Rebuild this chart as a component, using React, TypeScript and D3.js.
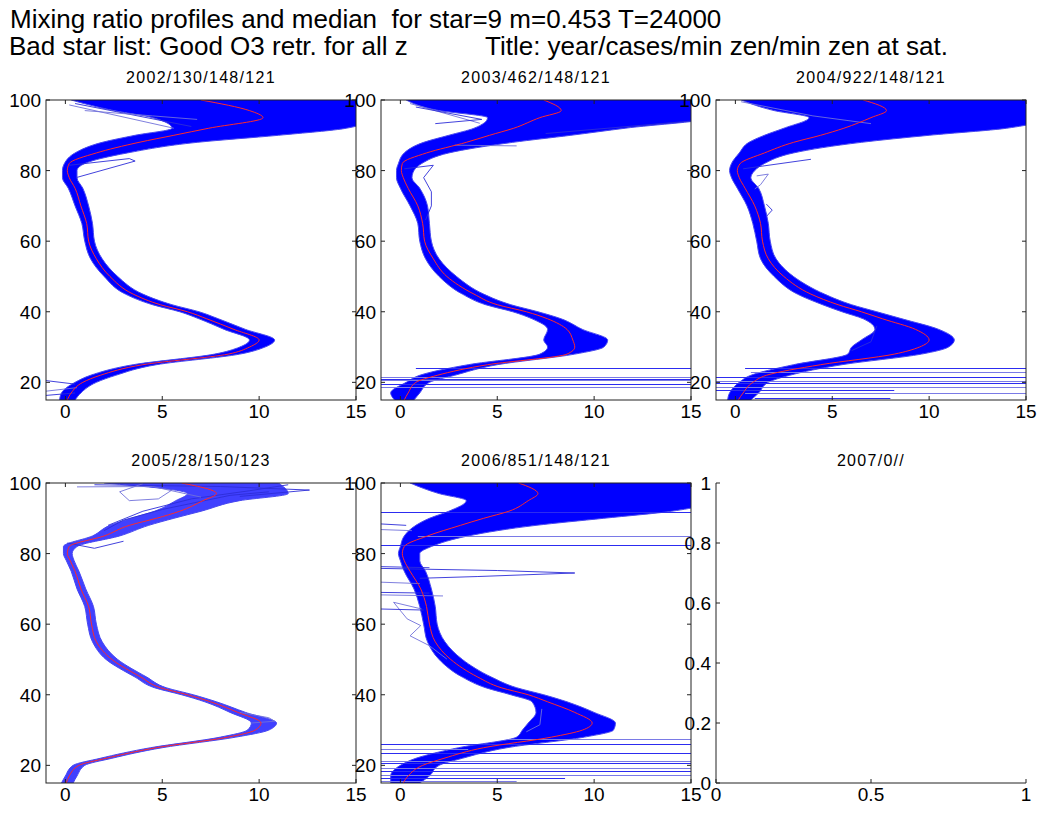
import React from "react";
import * as d3 from "d3";

// ---------- data ----------
const Z = [15, 17, 20, 22, 25, 28, 30, 32, 35, 38, 40, 42, 45, 50, 55, 60, 65, 70, 75, 78, 80, 82, 85, 88, 90, 92, 95, 97, 100];

const panelTitles = ["2002/130/148/121", "2003/462/148/121", "2004/922/148/121", "2005/28/150/123", "2006/851/148/121", "2007/0//"];

const median2002 = [0.1, 0.3, 0.9, 1.8, 4.0, 8.4, 9.5, 10.0, 8.7, 7.3, 6.3, 4.9, 3.5, 2.3, 1.6, 1.2, 1.1, 0.8, 0.5, 0.2, 0.1, 0.2, 1.6, 3.8, 5.6, 7.4, 10.2, 9.5, 7.0];
const lower2002 = [-0.3, -0.2, 0.5, 1.3, 3.5, 7.7, 9.0, 9.5, 8.2, 6.9, 5.9, 4.5, 3.1, 2.0, 1.3, 1.0, 0.85, 0.5, 0.15, -0.15, -0.15, -0.05, 0.5, 1.9, 3.6, 5.5, 4.5, 2.5, 0.3];
const upper2002 = [0.5, 0.8, 1.6, 2.6, 4.7, 9.0, 10.3, 10.8, 9.3, 7.9, 6.9, 5.5, 4.0, 2.7, 1.9, 1.5, 1.4, 1.2, 0.9, 0.6, 0.6, 1.0, 3.2, 6.8, 11.0, 14.5, 16, 16, 16];

const median2003 = [0.2, 0.4, 0.8, 1.9, 4.5, 8.6, 9.0, 8.9, 8.6, 7.6, 6.5, 5.0, 3.8, 2.4, 1.7, 1.25, 1.15, 0.9, 0.4, 0.15, 0.05, 0.1, 1.35, 3.4, 4.6, 5.85, 7.2, 8.3, 7.4];
const lower2003 = [-0.3, -0.5, 0.3, 1.0, 3.5, 7.2, 7.6, 7.4, 7.6, 6.8, 5.8, 4.4, 3.2, 2.0, 1.3, 1.0, 0.9, 0.5, 0.0, -0.2, -0.2, -0.1, 0.2, 1.2, 2.5, 3.8, 4.5, 2.0, 0.3];
const upper2003 = [0.7, 1.0, 1.5, 2.8, 5.0, 9.0, 10.5, 10.7, 9.4, 8.3, 7.1, 5.7, 4.3, 2.9, 2.0, 1.6, 1.5, 1.4, 1.0, 0.6, 0.7, 1.1, 2.5, 5.8, 8.8, 11.6, 16, 16, 16];

const median2004 = [0.15, 0.4, 0.9, 1.6, 4.4, 8.2, 9.5, 10.0, 9.3, 7.6, 6.5, 5.3, 3.9, 2.5, 1.7, 1.4, 1.3, 1.0, 0.5, 0.2, 0.1, 0.25, 1.5, 3.0, 4.4, 5.6, 7.0, 7.8, 6.6];
const lower2004 = [-0.4, -0.3, 0.2, 0.8, 3.0, 5.8, 6.0, 6.5, 7.2, 6.6, 5.5, 4.5, 3.2, 2.0, 1.3, 1.1, 0.9, 0.6, 0.1, -0.2, -0.3, -0.2, 0.2, 0.7, 1.5, 2.5, 3.8, 2.0, 0.3];
const upper2004 = [0.8, 1.2, 1.7, 2.8, 5.5, 9.6, 11.0, 11.3, 10.5, 8.6, 7.3, 6.0, 4.6, 3.0, 2.1, 1.8, 1.7, 1.5, 1.2, 0.8, 1.0, 1.5, 3.0, 6.5, 10.0, 14.0, 16, 16, 16];

const median2005 = [0.05, 0.2, 0.7, 2.1, 4.7, 8.4, 9.8, 10.1, 8.9, 7.5, 6.3, 4.9, 3.9, 2.4, 1.6, 1.35, 1.2, 0.8, 0.5, 0.25, 0.1, 0.2, 2.0, 3.3, 4.7, 5.9, 7.1, 7.8, 6.0];
const lower2005 = [-0.2, 0.0, 0.4, 1.8, 4.4, 8.0, 9.4, 9.6, 8.5, 7.2, 6.0, 4.6, 3.6, 2.1, 1.4, 1.15, 1.0, 0.6, 0.3, 0.05, -0.1, -0.1, 1.4, 2.3, 3.4, 4.6, 5.7, 6.3, 2.0];
const upper2005 = [0.4, 0.6, 1.0, 2.4, 5.0, 8.8, 10.5, 10.9, 9.3, 7.8, 6.6, 5.2, 4.2, 2.7, 1.9, 1.6, 1.45, 1.05, 0.7, 0.45, 0.35, 0.6, 2.8, 4.3, 5.6, 7.0, 9.0, 11.5, 11.0];

const median2006 = [0.15, 0.4, 1.15, 2.25, 4.3, 7.8, 9.4, 9.9, 9.0, 7.6, 6.6, 5.2, 4.0, 2.6, 1.8, 1.5, 1.35, 1.05, 0.5, 0.2, 0.1, 0.2, 1.4, 3.1, 4.3, 5.6, 6.6, 7.1, 6.1];
const lower2006 = [-0.5, -0.5, 0.0, 0.8, 3.0, 6.0, 6.3, 6.6, 7.0, 6.8, 5.7, 4.4, 3.2, 2.0, 1.4, 1.2, 1.0, 0.7, 0.2, 0.0, -0.1, 0.0, 0.2, 0.8, 1.5, 2.5, 3.4, 2.0, 0.5];
const upper2006 = [1.0, 1.5, 2.0, 3.2, 5.5, 9.5, 11.0, 11.1, 10.0, 8.6, 7.4, 6.0, 4.7, 3.2, 2.3, 1.9, 1.8, 1.6, 1.3, 1.0, 1.0, 1.6, 3.5, 7.0, 10.5, 14.0, 16, 16, 16];

// outlier profiles: [x, altitude] pairs
const outliers2002 = [
  [[0.2, 81.5], [3.3, 83.4], [3.6, 82.7], [0.55, 78]],
  [[0.2, 98.6], [5.6, 92.0]],
  [[0.5, 99.0], [6.5, 92.5]],
  [[1.0, 97.0], [4.5, 95.5], [6.8, 94.5]],
  [[-1, 20.5], [0.5, 19.5]],
  [[-1, 17.5], [0.6, 18.5]],
  [[-1, 16.3], [0.5, 17.0]],
];
const outliers2003 = [
  [[0.2, 80.5], [1.7, 81.5], [1.2, 78], [1.6, 74], [1.6, 70], [1.3, 66]],
  [[0.5, 99.0], [4.1, 93.4]],
  [[0.8, 98.0], [4.2, 94.5], [1.8, 93.3]],
  [[2.8, 87.2], [6.0, 87.0]],
  [[7.5, 90.5], [16, 94.5]],
];
const outliers2004 = [
  [[0.4, 80.5], [3.9, 83.2]],
  [[1.1, 78.5], [1.7, 79.0], [1.3, 76], [1.0, 74.8]],
  [[1.6, 70.5], [1.9, 68.8], [1.6, 67]],
  [[0.3, 99.5], [4.0, 95.5], [7.0, 93.3]],
  [[6.0, 29.0], [7.0, 31.5], [7.3, 36.0]],
];
const outliers2005 = [
  [[1.5, 99.5], [8.0, 99.0], [12.6, 98.0], [9.0, 96.2]],
  [[4.0, 99.8], [2.8, 97.5], [3.3, 95.0], [4.8, 95.5], [5.5, 98.0]],
  [[2.2, 88.0], [4.0, 92.0], [6.5, 95.5], [9.5, 97.8], [11.5, 99.5]],
  [[0.6, 98.9], [4.5, 99.0], [7.0, 96.0]],
  [[2.0, 86.5], [3.0, 89.5], [5.0, 92.5], [8.5, 96.5], [10.5, 97.5]],
  [[9.0, 35.0], [10.5, 33.5], [10.8, 32.5], [9.6, 32.0]],
  [[0.1, 83.0], [1.5, 81.5], [3.0, 83.5]],
];
const outliers2006 = [
  [[-1, 75.8], [5, 75.2], [9.0, 74.5], [4, 73.5], [1.0, 73.0]],
  [[1.1, 64.3], [-0.35, 66.2], [0.35, 61.5], [1.05, 59.6], [0.5, 56.7], [1.5, 53.9], [2.4, 50.1]],
  [[-1, 88.4], [0.3, 88.0]],
  [[-1, 86.8], [0.6, 86.5]],
  [[-1, 76.3], [1.5, 76.0]],
  [[-1, 71.9], [1.0, 71.5]],
  [[-1, 69.0], [1.5, 68.8]],
  [[-1, 68.3], [2.2, 68.0]],
  [[-1, 64.3], [1.2, 64.0]],
  [[6.5, 29.5], [7.2, 31.5], [7.3, 36.0]],
];

// near-horizontal streaks: [altitude, x start, x end]
const streaks2002: number[][] = [];
const streaks2003 = [[24.2, 0.8, 16], [21.6, -1, 16], [20.9, -1, 16], [20.6, -1, 16], [19.5, -1, 16], [18.6, -1, 16]];
const streaks2004 = [[24.1, 0.5, 16], [22.8, 0.8, 16], [21.4, -1, 16], [20.5, -1, 16], [19.7, -1, 16], [18.8, -1, 16], [17.9, -1, 8.2], [17.1, 0.5, 16], [15.7, 1.0, 8.0]];
const streaks2005: number[][] = [];
const streaks2006 = [[91.8, -1, 16], [85.0, 0.9, 16], [82.3, -1, 16], [27.4, 5.5, 16], [26.0, -1, 16], [24.5, -1, 3.5], [23.6, -1, 16], [21.2, -1, 16], [20.7, -1, 16], [19.3, -1, 16], [18.4, -1, 16], [17.4, -1, 16], [16.5, -1, 8.5], [15.5, -1, 6]];

const xTicks = [0, 5, 10, 15];
const yTicks = [20, 40, 60, 80, 100];
const emptyXTicks = [0, 0.5, 1];
const emptyYTicks = [0, 0.2, 0.4, 0.6, 0.8, 1];

const panels = [
  { title: panelTitles[0], median: median2002, lower: lower2002, upper: upper2002, outliers: outliers2002, streaks: streaks2002 },
  { title: panelTitles[1], median: median2003, lower: lower2003, upper: upper2003, outliers: outliers2003, streaks: streaks2003 },
  { title: panelTitles[2], median: median2004, lower: lower2004, upper: upper2004, outliers: outliers2004, streaks: streaks2004 },
  { title: panelTitles[3], median: median2005, lower: lower2005, upper: upper2005, outliers: outliers2005, streaks: streaks2005 },
  { title: panelTitles[4], median: median2006, lower: lower2006, upper: upper2006, outliers: outliers2006, streaks: streaks2006 },
];

// ---------- layout ----------
const W = 1044, H = 816;
const colLeft = [46, 381, 716];
const rowTop = [100, 483];
const PW = 310, PH = 300;
const FONT = "'Liberation Sans', Arial, Helvetica, sans-serif";
const TICK = 4;
const TICK_FS = 19;

function ProfilePanel({ p, left, top, idx }: any) {
  const x = d3.scaleLinear().domain([-1, 15]).range([left, left + PW]);
  const y = d3.scaleLinear().domain([15, 100]).range([top + PH, top]);
  const idxs = Z.map((_, i) => i);
  const area = d3.area<number>()
    .y((i) => y(Z[i]))
    .x0((i) => x(p.lower[i]))
    .x1((i) => x(p.upper[i]))
    .curve(d3.curveMonotoneY);
  const lowerLine = d3.line<number>().x((i) => x(p.lower[i])).y((i) => y(Z[i])).curve(d3.curveMonotoneY);
  const upperLine = d3.line<number>().x((i) => x(p.upper[i])).y((i) => y(Z[i])).curve(d3.curveMonotoneY);
  const medLine = d3.line<number>().x((i) => x(p.median[i])).y((i) => y(Z[i])).curve(d3.curveMonotoneY);
  const outLine = d3.line<number[]>().x((d) => x(d[0])).y((d) => y(d[1]));
  const clipId = `clip${idx}`;
  const sparse = idx === 3;
  return (
    <g>
      <defs>
        <clipPath id={clipId}>
          <rect x={left} y={top} width={PW} height={PH} />
        </clipPath>
      </defs>
      <g clipPath={`url(#${clipId})`}>
        <path d={area(idxs) || ""} fill="#0000ff" fillOpacity={sparse ? 0.75 : 1} />
        <path d={lowerLine(idxs) || ""} fill="none" stroke="#4848f0" strokeWidth={1} />
        <path d={upperLine(idxs) || ""} fill="none" stroke="#4848f0" strokeWidth={1} />
        {p.streaks.map((s: number[], k: number) => (
          <line key={"s" + k} x1={x(s[1])} x2={x(s[2])} y1={Math.round(y(s[0])) + 0.5} y2={Math.round(y(s[0])) + 0.5} stroke={k % 2 ? "#7a7ae6" : "#2c2cf0"} strokeWidth={1} />
        ))}
        {p.outliers.map((o: number[][], k: number) => (
          <path key={"o" + k} d={outLine(o) || ""} fill="none" stroke={k % 2 ? "#7070da" : "#2c2cd8"} strokeWidth={0.9} />
        ))}
        <path d={medLine(idxs) || ""} fill="none" stroke="#ff2a2a" strokeWidth={1} />
      </g>
      <rect x={left} y={top} width={PW} height={PH} fill="none" stroke="#222" strokeWidth={1} />
      {xTicks.map((t) => (
        <g key={"xt" + t}>
          <line x1={x(t)} x2={x(t)} y1={top + PH} y2={top + PH - TICK} stroke="#222" />
          <line x1={x(t)} x2={x(t)} y1={top} y2={top + TICK} stroke="#222" />
          <text x={x(t)} y={top + PH + 18} textAnchor="middle" fontSize={TICK_FS} fontFamily={FONT} fill="#000">{t}</text>
        </g>
      ))}
      {yTicks.map((t) => (
        <g key={"yt" + t}>
          <line x1={left} x2={left + TICK} y1={y(t)} y2={y(t)} stroke="#222" />
          <line x1={left + PW} x2={left + PW - TICK} y1={y(t)} y2={y(t)} stroke="#222" />
          <text x={left - 5} y={y(t) + 7} textAnchor="end" fontSize={TICK_FS} fontFamily={FONT} fill="#000">{t}</text>
        </g>
      ))}
      <text x={left + PW / 2} y={top - 17} textAnchor="middle" fontSize={16} letterSpacing={1.3} fontFamily={FONT} fill="#000">{p.title}</text>
    </g>
  );
}

function EmptyPanel({ left, top, title }: any) {
  const x = d3.scaleLinear().domain([0, 1]).range([left, left + PW]);
  const y = d3.scaleLinear().domain([0, 1]).range([top + PH, top]);
  return (
    <g>
      <line x1={left} x2={left} y1={top} y2={top + PH} stroke="#222" />
      <line x1={left} x2={left + PW} y1={top + PH} y2={top + PH} stroke="#222" />
      {emptyXTicks.map((t) => (
        <g key={"ext" + t}>
          <line x1={x(t)} x2={x(t)} y1={top + PH} y2={top + PH - TICK} stroke="#222" />
          <text x={x(t)} y={top + PH + 18} textAnchor="middle" fontSize={TICK_FS} fontFamily={FONT} fill="#000">{t}</text>
        </g>
      ))}
      {emptyYTicks.map((t) => (
        <g key={"eyt" + t}>
          <line x1={left} x2={left + TICK} y1={y(t)} y2={y(t)} stroke="#222" />
          <text x={left - 5} y={y(t) + 7} textAnchor="end" fontSize={TICK_FS} fontFamily={FONT} fill="#000">{t}</text>
        </g>
      ))}
      <text x={left + PW / 2} y={top - 17} textAnchor="middle" fontSize={16} letterSpacing={1.3} fontFamily={FONT} fill="#000">{title}</text>
    </g>
  );
}

export default function App() {
  return (
    <svg width={W} height={H} style={{ position: "absolute", left: 0, top: 0, background: "#fff" }}>
      <rect width={W} height={H} fill="#fff" />
      <text x={10} y={28} fontSize={26} fontFamily={FONT} fill="#000" style={{ whiteSpace: "pre" }}>
        {"Mixing ratio profiles and median  for star=9 m=0.453 T=24000"}
      </text>
      <text x={9} y={55} fontSize={26} fontFamily={FONT} fill="#000" style={{ whiteSpace: "pre" }}>
        {"Bad star list: Good O3 retr. for all z"}
      </text>
      <text x={485} y={55} fontSize={26} fontFamily={FONT} fill="#000" style={{ whiteSpace: "pre" }}>
        {"Title: year/cases/min zen/min zen at sat."}
      </text>
      {panels.map((p, i) => (
        <ProfilePanel key={i} p={p} idx={i} left={colLeft[i % 3]} top={rowTop[Math.floor(i / 3)]} />
      ))}
      <EmptyPanel left={colLeft[2]} top={rowTop[1]} title={panelTitles[5]} />
    </svg>
  );
}
